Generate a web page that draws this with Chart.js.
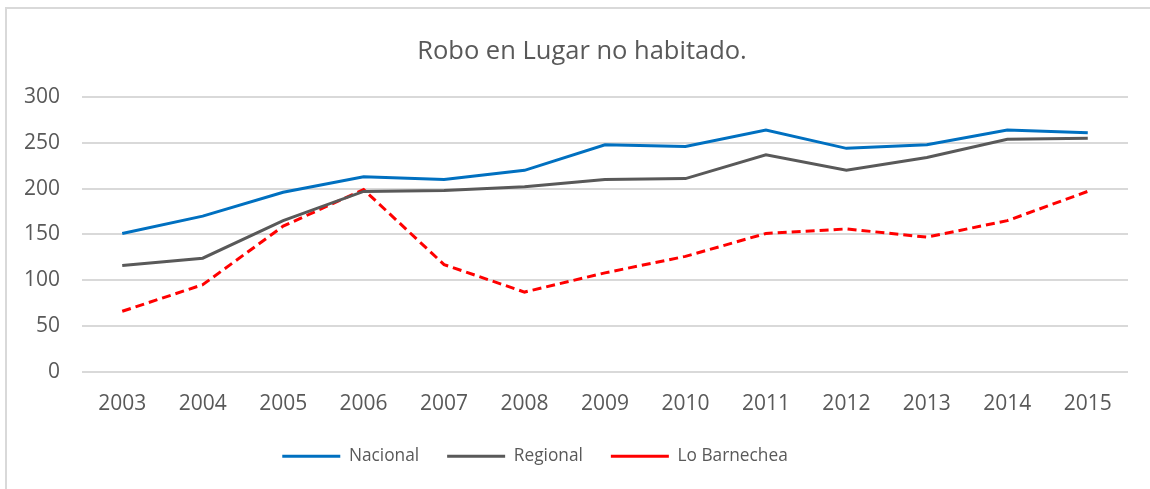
<!DOCTYPE html>
<html>
<head>
<meta charset="utf-8">
<script src="https://cdn.jsdelivr.net/npm/chart.js@4/dist/chart.umd.min.js"></script>
<style>
    html, body { margin: 0; padding: 0; background: #fff; overflow: hidden; }
    #frame { position: absolute; left: 5px; top: 7px; width: 1200px; height: 600px; border: 2px solid #d9d9d9; }
    #wrap { position: absolute; left: 0; top: 0; width: 1150px; height: 489px; }
</style>
</head>
<body>
<div id="frame"></div>
<div id="wrap"><canvas id="chart"></canvas></div>
<script>
let years = ['2003', '2004', '2005', '2006', '2007', '2008', '2009', '2010', '2011', '2012', '2013', '2014', '2015'];
let nacional = [151, 170, 196, 213, 210, 220, 248, 246, 264, 244, 248, 264, 261];
let regional = [116, 124, 165, 197, 198, 202, 210, 211, 237, 220, 234, 254, 255];
let lo_barnechea = [66, 95, 159, 199, 117, 87, 108, 126, 151, 156, 147, 165, 197];
let y_ticks = [0, 50, 100, 150, 200, 250, 300];

const font_family = "'Open Sans', 'Liberation Sans', sans-serif";
const text_color = '#595959';

// excel centres the title and legend a bit off the plot centre
const nudge_boxes = {
    id: 'nudge_boxes',
    afterLayout(chart) {
        chart.titleBlock.left += 18;
        chart.titleBlock.right += 18;
        chart.legend.right -= 58;
    }
};

let ctx = document.getElementById('chart');
let chart = new Chart(ctx, {
    type: 'line',
    plugins: [nudge_boxes],
    data: {
        labels: years,
        datasets: [{
            label: 'Nacional',
            data: nacional,
            borderColor: '#0070c0',
            backgroundColor: '#0070c0',
            borderWidth: 3,
            pointRadius: 0,
            tension: 0,
        }, {
            label: 'Regional',
            data: regional,
            borderColor: '#595959',
            backgroundColor: '#595959',
            borderWidth: 3,
            pointRadius: 0,
            tension: 0,
        }, {
            label: 'Lo Barnechea',
            data: lo_barnechea,
            borderColor: '#ff0000',
            backgroundColor: '#ff0000',
            borderWidth: 3,
            borderDash: [9, 5],
            pointRadius: 0,
            tension: 0,
        }]
    },
    options: {
        responsive: true,
        maintainAspectRatio: false,
        animation: false,
        layout: {padding: {left: 0, right: 22, top: 0, bottom: 14}},
        plugins: {
            title: {
                display: true,
                text: 'Robo en Lugar no habitado.',
                color: text_color,
                font: {family: font_family, size: 25.5, weight: 'normal'},
                padding: {top: 36, bottom: 30.5},
            },
            legend: {
                position: 'bottom',
                labels: {
                    usePointStyle: true,
                    pointStyle: 'line',
                    pointStyleWidth: 58,
                    boxWidth: 58,
                    padding: 28,
                    color: text_color,
                    font: {family: font_family, size: 17.3},
                },
            },
            tooltip: {enabled: false},
        },
        scales: {
            x: {
                offset: true,
                afterFit: (scale) => { scale.height = 48; },
                grid: {display: false, drawTicks: false},
                border: {display: false},
                ticks: {color: text_color, padding: 20, font: {family: font_family, size: 21}},
            },
            y: {
                min: 0,
                max: 300,
                afterBuildTicks: (scale) => { scale.ticks = y_ticks.map(v => ({value: v})); },
                afterFit: (scale) => { scale.width = 82; },
                grid: {color: '#d9d9d9', lineWidth: 2, drawTicks: false},
                border: {display: false},
                ticks: {color: text_color, padding: 22, font: {family: font_family, size: 21}},
            },
        },
    },
});
</script>
</body>
</html>
